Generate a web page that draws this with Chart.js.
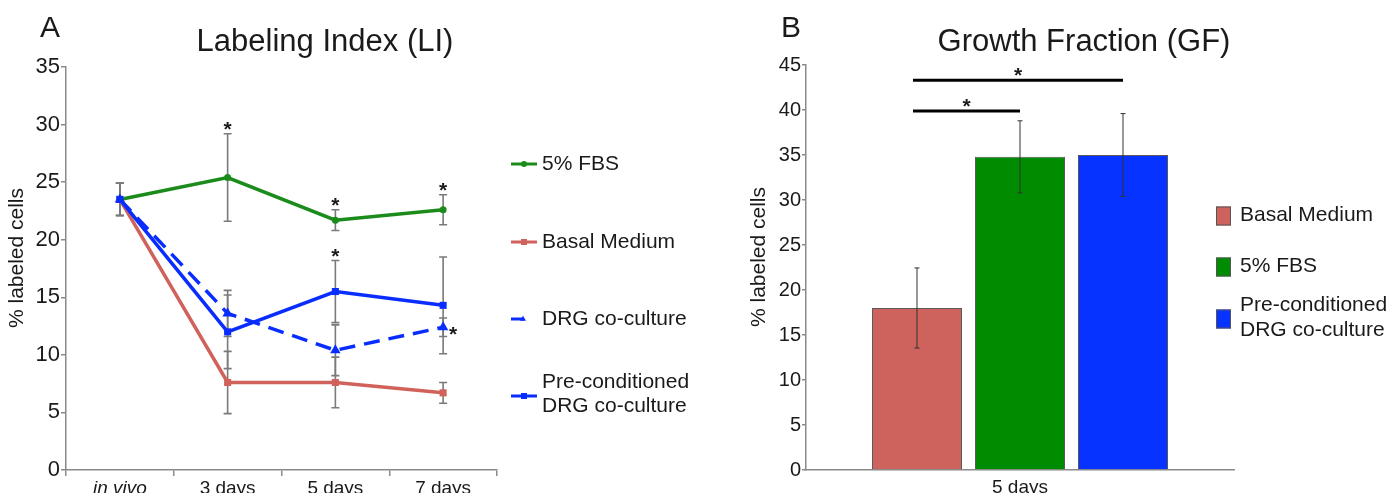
<!DOCTYPE html>
<html>
<head>
<meta charset="utf-8">
<script src="https://cdn.jsdelivr.net/npm/chart.js@4.4.1/dist/chart.umd.min.js"></script>
<style>
body{margin:0;background:#fff;width:1400px;height:493px;overflow:hidden;position:relative}
canvas{position:absolute;top:0}
#chartA{left:0}
#chartB{left:700px}
</style>
</head>
<body>
<canvas id="chartA" width="700" height="493"></canvas>
<canvas id="chartB" width="700" height="493"></canvas>
<script>
// ---- panel A: labeling index ----
var titleA = 'Labeling Index (LI)';
var yTitle = '% labeled cells';
var timepoints = ['in vivo', '3 days', '5 days', '7 days'];
var seriesNamesA = ['5% FBS', 'Basal Medium', 'DRG co-culture', 'Pre-conditioned\nDRG co-culture'];
var fbsLI = [23.5, 25.4, 21.7, 22.6];
var fbsLIerr = [1.4, 3.8, 0.9, 1.3];
var basalLI = [23.5, 7.6, 7.6, 6.7];
var basalLIerr = [1.4, 2.7, 2.2, 0.9];
var drgLI = [23.5, 13.6, 10.4, 12.4];
var drgLIerr = [1.4, 2.0, 2.2, 0.8];
var preLI = [23.5, 12.0, 15.5, 14.3];
var preLIerr = [1.4, 3.2, 2.7, 4.2];
var starCatsA = ['3 days', '5 days', '7 days', '5 days', '7 days'];
var starValsA = [30.1, 23.5, 24.8, 19.0, 12.3];
var yMinA = 0, yMaxA = 35, yStepA = 5;

// ---- panel B: growth fraction ----
var titleB = 'Growth Fraction (GF)';
var gfGroups = ['5 days'];
var seriesNamesB = ['Basal Medium', '5% FBS', 'Pre-conditioned\nDRG co-culture'];
var gfValues = [18.0, 34.8, 35.0];
var gfErr = [4.45, 4.0, 4.6];
var sigFrom = [0, 0];
var sigTo = [1, 2];
var sigLevel = [39.9, 43.3];
var yMinB = 0, yMaxB = 45, yStepB = 5;

// ---- styles ----
var FONT = '"Liberation Sans", Arial, sans-serif';
var green = '#1b8c1b', red = '#d0625b', blue = '#0a2dff';
var barColors = ['#cd635c', '#008c00', '#0633ff'];
var axisGray = '#8a8a8a';
var starShiftA = [0, 0, 0, 0, 10];
var legendYA = [164, 242, 319, 395];
var legendYB = [216, 267, 319];

Chart.defaults.font.family = FONT;
Chart.defaults.color = '#1a1a1a';

function drawMarker(ctx, style, x, y, r, color) {
  ctx.save();
  ctx.fillStyle = color;
  ctx.beginPath();
  if (style === 'rect') ctx.rect(x - r, y - r, 2 * r, 2 * r);
  else if (style === 'triangle') {
    ctx.moveTo(x, y - r * 1.1);
    ctx.lineTo(x + r, y + r * 0.6);
    ctx.lineTo(x - r, y + r * 0.6);
    ctx.closePath();
  } else ctx.arc(x, y, r, 0, Math.PI * 2);
  ctx.fill();
  ctx.restore();
}

function drawErrBar(ctx, x, yTop, yBot, cap, color, width) {
  ctx.save();
  ctx.strokeStyle = color;
  ctx.lineWidth = width;
  ctx.beginPath();
  ctx.moveTo(x, yTop); ctx.lineTo(x, yBot);
  ctx.moveTo(x - cap, yTop); ctx.lineTo(x + cap, yTop);
  ctx.moveTo(x - cap, yBot); ctx.lineTo(x + cap, yBot);
  ctx.stroke();
  ctx.restore();
}

function drawStar(ctx, x, yc, size) {
  ctx.save();
  ctx.font = 'bold ' + size + 'px ' + FONT;
  ctx.fillStyle = '#1a1a1a';
  ctx.textAlign = 'center';
  ctx.textBaseline = 'alphabetic';
  ctx.fillText('*', x, yc + size * 0.58);
  ctx.restore();
}

function drawHeadings(ctx, letter, lx, title, tx, ycx, ycy) {
  ctx.save();
  ctx.fillStyle = '#1a1a1a';
  ctx.textBaseline = 'alphabetic';
  ctx.font = '30px ' + FONT;
  ctx.textAlign = 'left';
  ctx.fillText(letter, lx, 37);
  ctx.font = '31px ' + FONT;
  ctx.textAlign = 'center';
  ctx.fillText(title, tx, 51);
  ctx.translate(ycx, ycy);
  ctx.rotate(-Math.PI / 2);
  ctx.font = '21px ' + FONT;
  ctx.textBaseline = 'middle';
  ctx.fillText(yTitle, 0, 0);
  ctx.restore();
}

function legendText(ctx, label, x, y, lineH) {
  var lines = label.split('\n');
  ctx.save();
  ctx.font = '21px ' + FONT;
  ctx.fillStyle = '#1a1a1a';
  ctx.textAlign = 'left';
  ctx.textBaseline = 'middle';
  lines.forEach(function (t, k) {
    ctx.fillText(t, x, y + (k - (lines.length - 1) / 2) * lineH);
  });
  ctx.restore();
}

var panelAPlugin = {
  id: 'panelA',
  beforeDatasetsDraw: function (chart) {
    var ctx = chart.ctx, xs = chart.scales.x, ys = chart.scales.y;
    chart.data.datasets.forEach(function (ds) {
      ds.data.forEach(function (v, j) {
        drawErrBar(ctx, xs.getPixelForValue(j), ys.getPixelForValue(v + ds.err[j]),
          ys.getPixelForValue(v - ds.err[j]), 4, '#7a7a7a', 1.6);
      });
    });
  },
  afterDatasetsDraw: function (chart) {
    var ctx = chart.ctx, xs = chart.scales.x, ys = chart.scales.y;
    starCatsA.forEach(function (c, i) {
      drawStar(ctx, xs.getPixelForValue(timepoints.indexOf(c)) + starShiftA[i], ys.getPixelForValue(starValsA[i]), 21);
    });
  },
  afterDraw: function (chart) {
    var ctx = chart.ctx;
    drawHeadings(ctx, 'A', 40, titleA, 325, 17, 258);
    chart.data.datasets.forEach(function (ds, i) {
      var y = legendYA[i];
      var dashed = ds.borderDash && ds.borderDash.length;
      ctx.save();
      ctx.strokeStyle = ds.borderColor;
      ctx.lineWidth = 3;
      ctx.beginPath();
      ctx.moveTo(511, y + (i === 3 ? 1 : 0));
      ctx.lineTo(dashed ? 524 : 537, y + (i === 3 ? 1 : 0));
      ctx.stroke();
      ctx.restore();
      drawMarker(ctx, ds.pointStyle, dashed ? 523 : 524, y + (i === 3 ? 1 : 0), 3, ds.borderColor);
      legendText(ctx, ds.label, 542, y - (i === 3 ? 1 : 0), 24);
    });
  }
};

function lineSet(label, data, err, color, style, radius, dash, order) {
  return {
    label: label, data: data, err: err,
    borderColor: color, backgroundColor: color,
    borderWidth: 3.5, borderDash: dash,
    pointStyle: style, pointRadius: radius, pointBorderWidth: 0,
    pointBackgroundColor: color, tension: 0, order: order
  };
}

new Chart(document.getElementById('chartA'), {
  type: 'line',
  data: {
    labels: timepoints,
    datasets: [
      lineSet(seriesNamesA[0], fbsLI, fbsLIerr, green, 'circle', 3.5, [], 2),
      lineSet(seriesNamesA[1], basalLI, basalLIerr, red, 'rect', 5, [], 3),
      lineSet(seriesNamesA[2], drgLI, drgLIerr, blue, 'triangle', 6, [16, 9], 1),
      lineSet(seriesNamesA[3], preLI, preLIerr, blue, 'rect', 5, [], 0)
    ]
  },
  options: {
    responsive: false,
    animation: false,
    layout: { padding: { left: 0, top: 67, right: 203, bottom: 0 } },
    plugins: { legend: { display: false }, tooltip: { enabled: false } },
    scales: {
      x: {
        offset: true,
        grid: { drawOnChartArea: false, offset: true, color: axisGray, tickLength: 6, lineWidth: 1.5 },
        border: { color: axisGray, width: 1.5 },
        ticks: {
          padding: 1,
          font: function (c) { return { size: 19, style: c.index === 0 ? 'italic' : 'normal' }; }
        },
        afterFit: function (s) { s.height = 23; }
      },
      y: {
        min: yMinA, max: yMaxA,
        grid: { drawOnChartArea: false, color: axisGray, tickLength: 5, lineWidth: 1.5 },
        border: { color: axisGray, width: 1.5 },
        ticks: { stepSize: yStepA, padding: 1, font: { size: 22 } },
        afterFit: function (s) { s.width = 66; }
      }
    }
  },
  plugins: [panelAPlugin]
});

var panelBPlugin = {
  id: 'panelB',
  afterDatasetsDraw: function (chart) {
    var ctx = chart.ctx, ys = chart.scales.y;
    chart.data.datasets.forEach(function (ds, k) {
      var bar = chart.getDatasetMeta(k).data[0];
      drawErrBar(ctx, bar.x, ys.getPixelForValue(ds.data[0] + ds.err[0]),
        ys.getPixelForValue(ds.data[0] - ds.err[0]), 2.5, '#333', 1);
    });
    sigLevel.forEach(function (lv, i) {
      var x1 = chart.getDatasetMeta(sigFrom[i]).data[0].x;
      var x2 = chart.getDatasetMeta(sigTo[i]).data[0].x;
      var y = ys.getPixelForValue(lv);
      ctx.save();
      ctx.strokeStyle = '#000';
      ctx.lineWidth = 3;
      ctx.beginPath();
      ctx.moveTo(x1 - 4, y); ctx.lineTo(x2, y);
      ctx.stroke();
      ctx.restore();
      drawStar(ctx, (x1 + x2) / 2 - 2, y - 10, 21);
    });
  },
  afterDraw: function (chart) {
    var ctx = chart.ctx;
    drawHeadings(ctx, 'B', 81, titleB, 384, 59, 257);
    chart.data.datasets.forEach(function (ds, i) {
      var y = legendYB[i];
      ctx.save();
      ctx.fillStyle = ds.backgroundColor;
      ctx.strokeStyle = '#555';
      ctx.lineWidth = 1;
      ctx.fillRect(516, y - 9.5, 15, 19);
      ctx.strokeRect(516.5, y - 9, 14, 18);
      ctx.restore();
      legendText(ctx, ds.label, 540, y - 1, 25);
    });
  }
};

new Chart(document.getElementById('chartB'), {
  type: 'bar',
  data: {
    labels: gfGroups,
    datasets: seriesNamesB.map(function (name, k) {
      return {
        label: name, data: [gfValues[k]], err: [gfErr[k]],
        backgroundColor: barColors[k], borderColor: '#5a5a5a', borderWidth: 1,
        categoryPercentage: 0.722, barPercentage: 0.874
      };
    })
  },
  options: {
    responsive: false,
    animation: false,
    layout: { padding: { left: 0, top: 65, right: 166, bottom: 0 } },
    plugins: { legend: { display: false }, tooltip: { enabled: false } },
    scales: {
      x: {
        grid: { display: false, drawTicks: false },
        border: { color: axisGray, width: 1.5 },
        ticks: { padding: 6, font: { size: 19 } },
        afterFit: function (s) { s.height = 23; }
      },
      y: {
        min: yMinB, max: yMaxB,
        grid: { drawOnChartArea: false, color: axisGray, tickLength: 4, lineWidth: 1.5 },
        border: { color: axisGray, width: 1.5 },
        ticks: { stepSize: yStepB, padding: 1, font: { size: 20 } },
        afterFit: function (s) { s.width = 106; }
      }
    }
  },
  plugins: [panelBPlugin]
});
</script>
</body>
</html>
